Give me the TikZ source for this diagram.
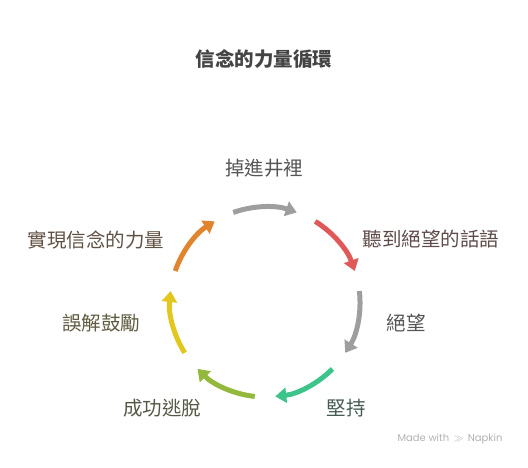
\documentclass[tikz,border=0pt]{standalone}
\usepackage{fontspec}
\setmainfont{Noto Sans CJK TC}
\newfontfamily\cjk{Noto Sans CJK TC}
\usetikzlibrary{arrows.meta}
\definecolor{cgray}{HTML}{9E9E9E}
\definecolor{cred}{HTML}{E05858}
\definecolor{cgreen}{HTML}{3CC48A}
\definecolor{colive}{HTML}{92B83C}
\definecolor{cyellow}{HTML}{E2C81E}
\definecolor{corange}{HTML}{E0852E}
\definecolor{ctext}{HTML}{474747}
\begin{document}
\begin{tikzpicture}[
  x=1pt, y=1pt,
  steplabel/.style={font=\cjk\fontsize{19.5}{21}\selectfont, text=#1!16!ctext, inner sep=0pt},
  cyclearrow/.style={draw=#1, line width=5pt, -{Triangle[length=11pt, width=15pt]}},
  title/.style={font=\cjk\bfseries\fontsize{19.5}{21}\selectfont, text=ctext!95!black},
]
  \useasboundingbox (0,0) rectangle (528,468);
  \coordinate (c) at (265,166);

  \node[title] (head) at (264,409) {信念的力量循環};

  % labels round the cycle
  \node[steplabel=cgray] (fall) at (264,300) {掉進井裡};
  \node[steplabel=cred] (hear) at (431,229) {聽到絕望的話語};
  \node[steplabel=cgray] (despair) at (406,145) {絕望};
  \node[steplabel=cgreen] (persist) at (346,60) {堅持};
  \node[steplabel=colive] (escape) at (162,60) {成功逃脫};
  \node[steplabel=cyellow] (misread) at (101,145) {誤解鼓勵};
  \node[steplabel=corange] (power) at (96,228) {實現信念的力量};

  % arrows on the circle
  \foreach \col [count=\i from 0] in {cgray, cred, cgray, cgreen, colive, cyellow, corange} {
    \pgfmathsetmacro{\mid}{90 - 360/7*\i}
    \draw[cyclearrow=\col] (c) ++(\mid+19.5:95) arc[start angle=\mid+19.5, end angle=\mid-19.5, radius=95];
  }

  \node[font=\fontspec{Poppins}\fontsize{10}{12}\selectfont, text=black!30] (mark) at (450,29) {Made with \,$\gg$\, Napkin};
\end{tikzpicture}
\end{document}
